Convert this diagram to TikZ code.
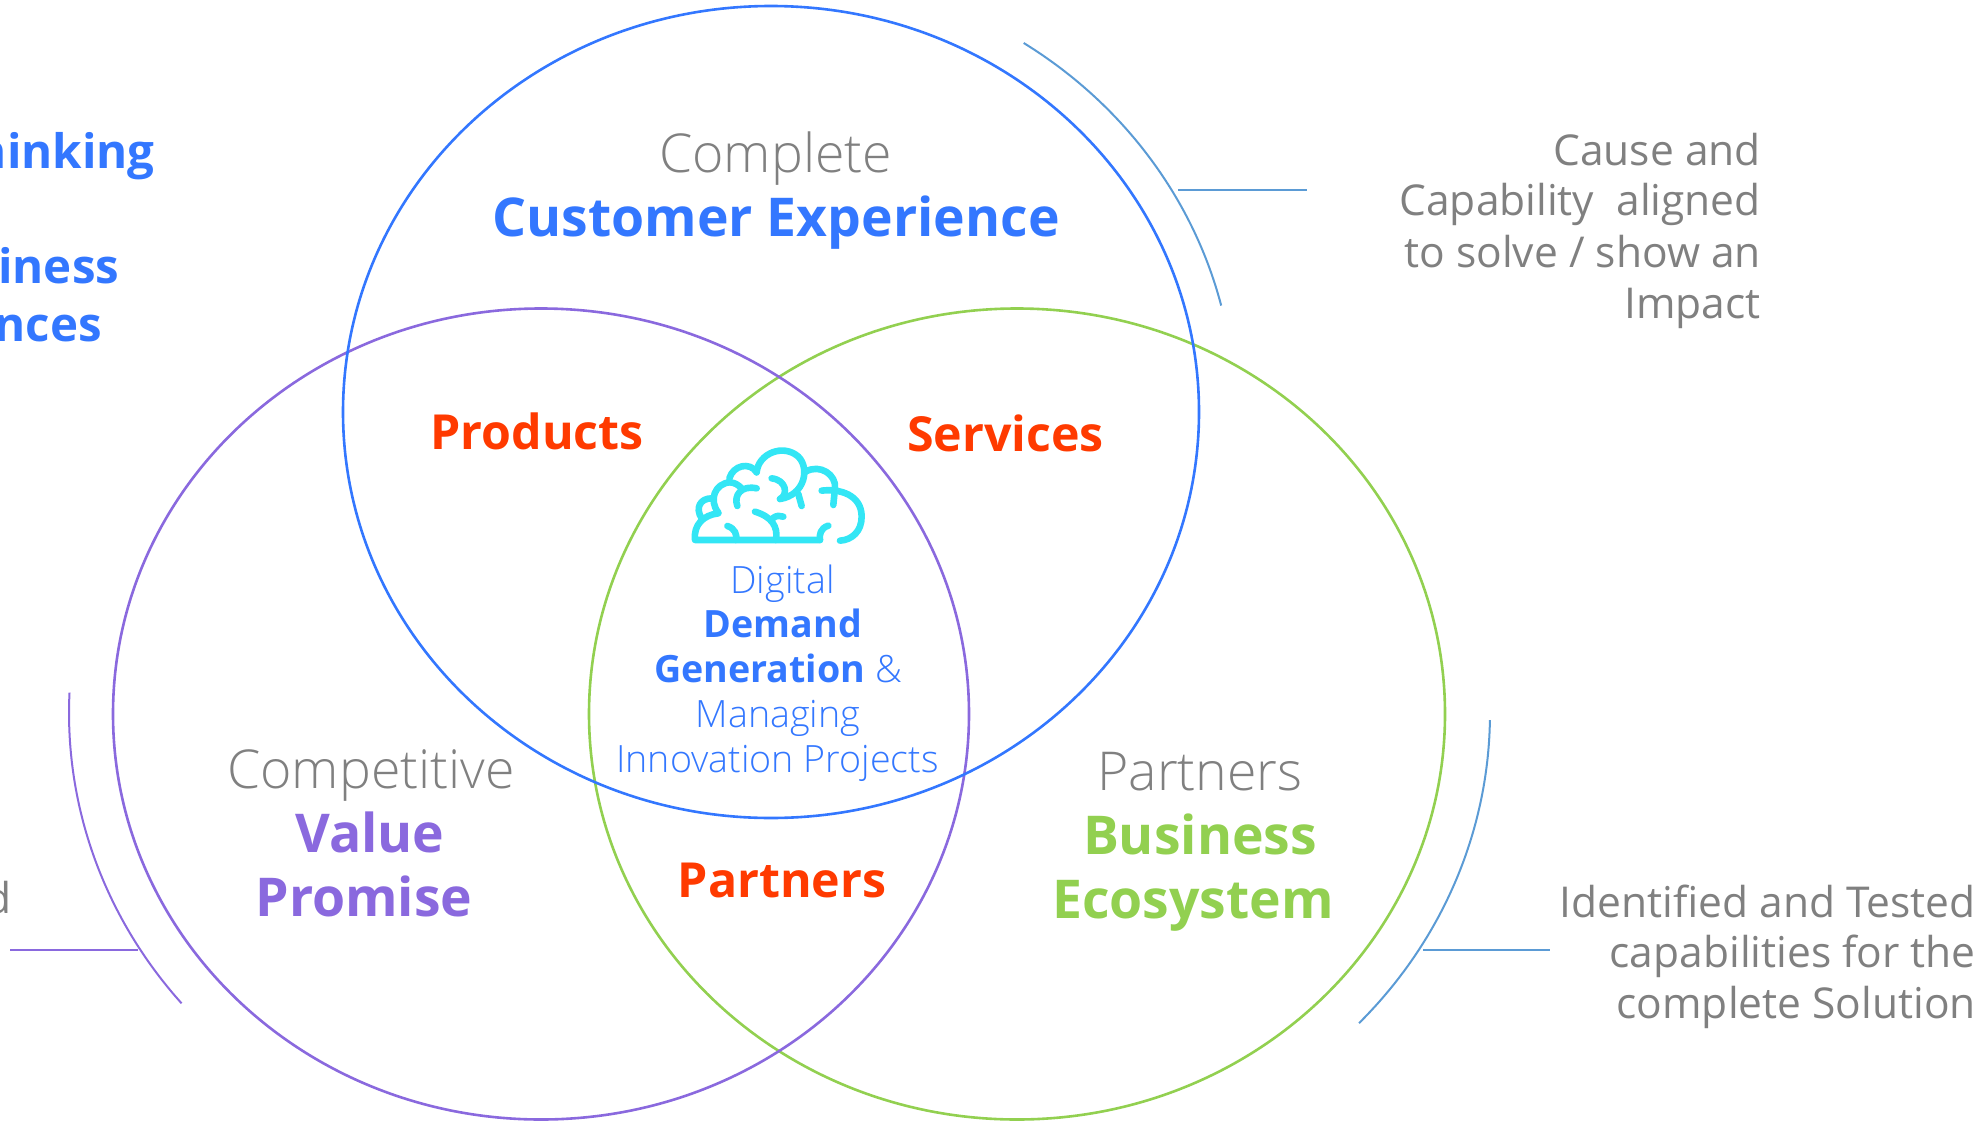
\documentclass[tikz,border=0pt]{standalone}
\usepackage{fontspec}
\setmainfont{Open Sans}
\newfontfamily\lightf[UprightFont={* Light}]{Open Sans}
\definecolor{cblue}{HTML}{3377FF}
\definecolor{cpurple}{HTML}{8A69DE}
\definecolor{cgreen}{HTML}{92D050}
\definecolor{cred}{HTML}{FF3A00}
\definecolor{cgray}{HTML}{808080}
\definecolor{ccyan}{HTML}{33E6F5}
\definecolor{carc}{HTML}{5B9BD5}
\tikzset{
  vennc/.style={line width=2.6pt},
  thinl/.style={line width=2pt},
  brainl/.style={ccyan,line width=6.6pt,line cap=round,line join=round},
  txt/.style={inner sep=0pt,anchor=base},
  head/.style={txt,font=\lightf\fontsize{53.6}{64}\selectfont,text=cgray},
  bighead/.style={txt,font=\bfseries\fontsize{53.5}{64}\selectfont},
  redl/.style={txt,font=\bfseries\fontsize{48.3}{58}\selectfont,text=cred},
  note/.style={inner sep=0pt,anchor=base east,font=\fontsize{42.5}{52}\selectfont,text=cgray},
  midt/.style={txt,font=\lightf\fontsize{37.6}{45}\selectfont,text=cblue},
  midb/.style={txt,font=\bfseries\fontsize{37.6}{45}\selectfont,text=cblue},
  edgeb/.style={inner sep=0pt,anchor=base east,font=\bfseries\fontsize{47.5}{57}\selectfont,text=cblue},
}
\begin{document}
\begin{tikzpicture}[x=1pt,y=-1pt]
\useasboundingbox (0,0) rectangle (1985,1124);
\clip (0,0) rectangle (1985,1124);
% three circles
\draw[vennc,cgreen] (1017,714) ellipse [x radius=428,y radius=405.5];
\draw[vennc,cpurple] (541,714) ellipse [x radius=428,y radius=405.5];
\draw[vennc,cblue] (771,412) ellipse [x radius=428,y radius=406];
% outer arcs
\draw[thinl,carc] plot[domain=57:14,samples=60] ({771+464*cos(\x)},{412-440*sin(\x)});
\draw[thinl,carc] plot[domain=-0.9:-43.7,samples=60] ({1017+473*cos(\x)},{713-449*sin(\x)});
\draw[thinl,cpurple] plot[domain=177.4:220.4,samples=60] ({541+472*cos(\x)},{713-448*sin(\x)});
% leaders
\coordinate (la1) at (1178,190); \coordinate (la2) at (1307,190);
\coordinate (lb1) at (1423,950); \coordinate (lb2) at (1550,950);
\coordinate (lc1) at (138,950); \coordinate (lc2) at (10,950);
\draw[thinl,carc] (la1) -- (la2);
\draw[thinl,carc] (lb1) -- (lb2);
\draw[thinl,cpurple] (lc1) -- (lc2);
% brain
\begin{scope}[shift={(640,420)},x=0.3333pt,y=-0.3333pt]
\draw[brainl] (540,360) -- (165,360) .. controls (160,315) and (190,285) .. (235,280);
\draw[brainl] (185,295) .. controls (165,265) and (180,235) .. (215,235);
\draw[brainl] (235,278) .. controls (205,240) and (225,190) .. (270,187) .. controls (285,188) and (295,195) .. (305,205);
\draw[brainl] (268,175) .. controls (280,135) and (330,125) .. (350,157);
\draw[brainl] (350,157) .. controls (355,100) and (430,70) .. (475,110) .. controls (510,145) and (495,225) .. (420,237);
\draw[brainl] (395,175) .. controls (440,180) and (445,225) .. (420,237);
\draw[brainl] (475,222) -- (485,258);
\draw[brainl] (497,155) .. controls (540,130) and (590,165) .. (585,205) -- (580,255);
\draw[brainl] (545,212) .. controls (600,205) and (665,225) .. (665,290) .. controls (665,335) and (635,360) .. (600,362);
\draw[brainl] (350,205) .. controls (305,195) and (280,225) .. (292,258);
\draw[brainl] (345,275) .. controls (395,290) and (415,320) .. (408,360);
\draw[brainl] (398,295) .. controls (410,285) and (420,287) .. (430,290);
\draw[brainl] (262,318) .. controls (285,325) and (292,345) .. (288,360);
\draw[brainl] (565,317) .. controls (540,325) and (538,345) .. (540,360);
\end{scope}
% circle headings
\node[head] (h1) at (775.5,172) {Complete};
\node[bighead,text=cblue] (h2) at (776,236) {Customer Experience};
\node[head] (h3) at (371,788) {Competitive};
\node[bighead,text=cpurple] (h4) at (370,852) {Value};
\node[bighead,text=cpurple] (h5) at (364,916) {Promise};
\node[head] (h6) at (1200,790) {Partners};
\node[bighead,text=cgreen] (h7) at (1200,854) {Business};
\node[bighead,text=cgreen] (h8) at (1193,918) {Ecosystem};
% overlaps
\node[redl] (r1) at (537,449) {Products};
\node[redl] (r2) at (1005.5,451) {Services};
\node[redl] (r3) at (782,897) {Partners};
% centre
\node[midt] (m1) at (782.5,593) {Digital};
\node[midb] (m2) at (783,637) {Demand};
\node[midb] (m3) at (778,682) {Generation {\lightf\mdseries \&}};
\node[midt] (m4) at (778,727) {Managing};
\node[midt] (m5) at (777.5,772) {Innovation Projects};
% notes
\node[note] (n1) at (1761,165) {Cause and};
\node[note] (n2) at (1761,215.5) {Capability\ \ aligned};
\node[note] (n3) at (1761,267) {to solve / show an};
\node[note] (n4) at (1761,318.5) {Impact};
\node[note] (n5) at (1976,917) {Identified and Tested};
\node[note] (n6) at (1976,967.5) {capabilities for the};
\node[note] (n7) at (1976,1018) {complete Solution};
% cropped texts at the left edge
\node[edgeb] (e1) at (155,168) {hinking};
\node[edgeb] (e2) at (119.5,283) {siness};
\node[edgeb] (e3) at (102,341) {nces};
\node[note] (e4) at (12,913) {d};
\end{tikzpicture}
\end{document}
